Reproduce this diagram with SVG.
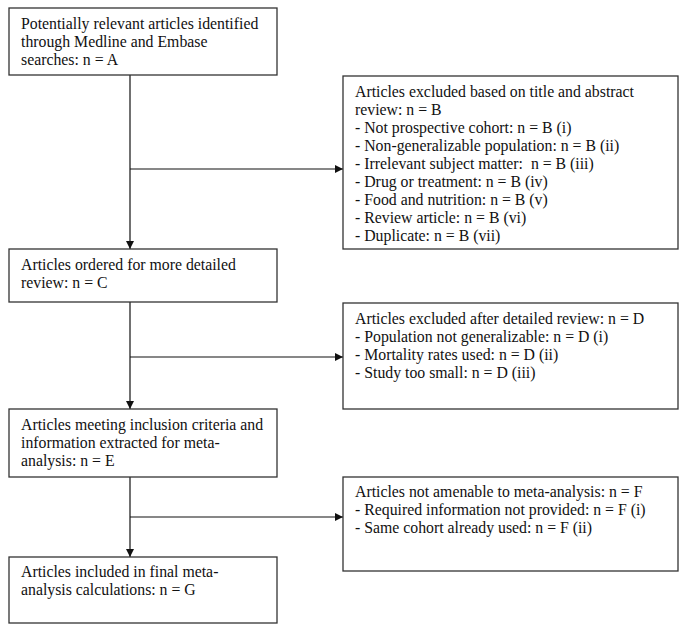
<svg xmlns="http://www.w3.org/2000/svg" width="685" height="633" viewBox="0 0 685 633">
<style>
.box{fill:#fff;stroke:#333;stroke-width:1.3}
.t{font-family:"Liberation Serif","Times New Roman",serif;font-size:15.8px;fill:#111;white-space:pre}
.c{stroke:#111;stroke-width:1.2;fill:none}
</style>
<defs>
<marker id="ah" viewBox="0 0 10 10" refX="10" refY="5" markerWidth="9" markerHeight="8" markerUnits="userSpaceOnUse" orient="auto">
<path d="M0,0L10,5L0,10z" fill="#111"/>
</marker>
</defs>
<rect width="685" height="633" fill="#fff"/>
<g id="connectors">
<line class="c" x1="130" y1="75" x2="130" y2="249" marker-end="url(#ah)"/>
<line class="c" x1="130" y1="169" x2="343" y2="169" marker-end="url(#ah)"/>
<line class="c" x1="130" y1="302" x2="130" y2="409" marker-end="url(#ah)"/>
<line class="c" x1="130" y1="357" x2="343" y2="357" marker-end="url(#ah)"/>
<line class="c" x1="130" y1="477" x2="130" y2="557" marker-end="url(#ah)"/>
<line class="c" x1="130" y1="517" x2="343" y2="517" marker-end="url(#ah)"/>
</g>
<g id="nodeA">
<rect class="box" x="9" y="8" width="268" height="67"/>
<text class="t" x="21" y="29">Potentially relevant articles identified</text>
<text class="t" x="21" y="47">through Medline and Embase</text>
<text class="t" x="21" y="65">searches: n = A</text>
</g>
<g id="nodeB">
<rect class="box" x="343" y="76" width="335" height="173"/>
<text class="t" x="355" y="97">Articles excluded based on title and abstract</text>
<text class="t" x="355" y="115">review: n = B</text>
<text class="t" x="355" y="133">- Not prospective cohort: n = B (i)</text>
<text class="t" x="355" y="151">- Non-generalizable population: n = B (ii)</text>
<text class="t" x="355" y="169" xml:space="preserve">- Irrelevant subject matter:  n = B (iii)</text>
<text class="t" x="355" y="187">- Drug or treatment: n = B (iv)</text>
<text class="t" x="355" y="205">- Food and nutrition: n = B (v)</text>
<text class="t" x="355" y="223">- Review article: n = B (vi)</text>
<text class="t" x="355" y="241">- Duplicate: n = B (vii)</text>
</g>
<g id="nodeC">
<rect class="box" x="9" y="249" width="268" height="53"/>
<text class="t" x="21" y="270">Articles ordered for more detailed</text>
<text class="t" x="21" y="288">review: n = C</text>
</g>
<g id="nodeD">
<rect class="box" x="343" y="303" width="335" height="106"/>
<text class="t" x="355" y="324">Articles excluded after detailed review: n = D</text>
<text class="t" x="355" y="342">- Population not generalizable: n = D (i)</text>
<text class="t" x="355" y="360">- Mortality rates used: n = D (ii)</text>
<text class="t" x="355" y="378">- Study too small: n = D (iii)</text>
</g>
<g id="nodeE">
<rect class="box" x="9" y="409" width="268" height="68"/>
<text class="t" x="21" y="430">Articles meeting inclusion criteria and</text>
<text class="t" x="21" y="448">information extracted for meta-</text>
<text class="t" x="21" y="466">analysis: n = E</text>
</g>
<g id="nodeF">
<rect class="box" x="343" y="477" width="335" height="94"/>
<text class="t" x="355" y="497">Articles not amenable to meta-analysis: n = F</text>
<text class="t" x="355" y="515">- Required information not provided: n = F (i)</text>
<text class="t" x="355" y="533">- Same cohort already used: n = F (ii)</text>
</g>
<g id="nodeG">
<rect class="box" x="9" y="557" width="268" height="66"/>
<text class="t" x="21" y="577">Articles included in final meta-</text>
<text class="t" x="21" y="595">analysis calculations: n = G</text>
</g>
</svg>
